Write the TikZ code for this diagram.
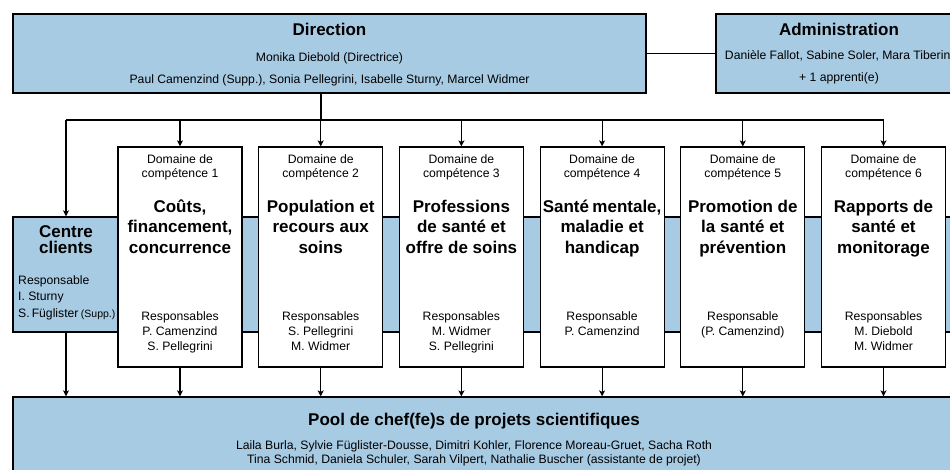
\documentclass[tikz,border=0pt]{standalone}
\usepackage{fontspec}
\setmainfont{Liberation Sans}
\usetikzlibrary{arrows.meta}
\definecolor{boxblue}{RGB}{168,203,228}
\tikzset{
  bluebox/.style={draw=black, fill=boxblue, line width=1.2pt, inner sep=0pt},
  whitebox/.style={draw=black, fill=white, line width=1.2pt, inner sep=0pt, minimum width=124pt, minimum height=220pt},
  conn/.style={draw=black, line width=1.2pt},
  arr/.style={conn, -{Stealth[length=6pt,width=6pt,inset=1.5pt]}},
  txt/.style={font=\fontsize{12.2}{14}\selectfont, inner sep=0pt},
  ttl/.style={font=\bfseries\fontsize{17}{20}\selectfont, inner sep=0pt},
}
\newcommand{\tlines}[6]{\foreach \t [count=\k from 0] in {#6}{\node[#5] (#1-\k) at (#2,{#3+#4*\k}) {\t};}}
\begin{document}
\begin{tikzpicture}[x=1pt,y=-1pt]
\clip (0,0) rectangle (950,470);
\fill[white] (0,0) rectangle (950,470);
% boxes
\node[bluebox, minimum width=947pt, minimum height=115pt] (band) at (486.5,274.5) {};
\node[bluebox, minimum width=947pt, minimum height=93pt] (pool) at (486.5,443.5) {};
\node[bluebox, minimum width=633pt, minimum height=79pt] (dir) at (329.5,53.5) {};
\node[bluebox, minimum width=246pt, minimum height=79pt] (adm) at (839,53.5) {};
\node[whitebox] (d1) at (180,257) {};
\node[whitebox] (d2) at (320.7,257) {};
\node[whitebox] (d3) at (461.4,257) {};
\node[whitebox] (d4) at (602.1,257) {};
\node[whitebox] (d5) at (742.8,257) {};
\node[whitebox] (d6) at (883.5,257) {};
% connectors
\coordinate (bj) at (321,120);
\coordinate (bl) at (66,120);
\coordinate (br) at (883.5,120);
\draw[conn] (dir.east) -- (adm.west);
\draw[conn] (dir.south -| bj) -- (bj);
\draw[conn] (bl) -- (br);
\draw[arr] (bl) -- (bl |- band.north);
\foreach \i in {1,...,6}{\draw[arr] (d\i.north |- bj) -- (d\i.north);}
\draw[arr] (band.south -| bl) -- (pool.north -| bl);
\foreach \i in {1,...,6}{\draw[arr] (d\i.south) -- (d\i.south |- pool.north);}
% Direction
\node[ttl, anchor=base] (dirT) at (329.5,36) {Direction};
\tlines{dirL}{329.5}{62}{21.5}{txt,anchor=base}{Monika Diebold (Directrice),{Paul Camenzind (Supp.), Sonia Pellegrini, Isabelle Sturny, Marcel Widmer}}
% Administration
\node[ttl, anchor=base] (admT) at (839,36) {Administration};
\tlines{admL}{839}{60}{22}{txt,anchor=base}{{Danièle Fallot, Sabine Soler, Mara Tiberini},+ 1 apprenti(e)}
% Centre clients
\tlines{ccT}{66}{237.3}{16.7}{ttl,anchor=base}{Centre,clients}
\tlines{ccL}{18}{284}{16.5}{txt,anchor=base west}{Responsable,I. Sturny,{S.\,Füglister\hspace{0.2em}{\fontsize{10.5}{13}\selectfont(Supp.)}}}
% domains
\tlines{d1a}{180}{163.3}{14.5}{txt,anchor=base}{Domaine de,compétence 1}
\tlines{d1b}{180}{212.7}{20.3}{ttl,anchor=base}{{Coûts,},{financement,},concurrence}
\tlines{d1c}{180}{320}{15}{txt,anchor=base}{Responsables,P. Camenzind,S. Pellegrini}
\tlines{d2a}{320.7}{163.3}{14.5}{txt,anchor=base}{Domaine de,compétence 2}
\tlines{d2b}{320.7}{212.7}{20.3}{ttl,anchor=base}{Population et,recours aux,soins}
\tlines{d2c}{320.7}{320}{15}{txt,anchor=base}{Responsables,S. Pellegrini,M. Widmer}
\tlines{d3a}{461.4}{163.3}{14.5}{txt,anchor=base}{Domaine de,compétence 3}
\tlines{d3b}{461.4}{212.7}{20.3}{ttl,anchor=base}{Professions,de santé et,offre de soins}
\tlines{d3c}{461.4}{320}{15}{txt,anchor=base}{Responsables,M. Widmer,S. Pellegrini}
\tlines{d4a}{602.1}{163.3}{14.5}{txt,anchor=base}{Domaine de,compétence 4}
\tlines{d4b}{602.1}{212.7}{20.3}{ttl,anchor=base}{{Santé\hspace{0.2em}mentale,},maladie et,handicap}
\tlines{d4c}{602.1}{320}{15}{txt,anchor=base}{Responsable,P. Camenzind}
\tlines{d5a}{742.8}{163.3}{14.5}{txt,anchor=base}{Domaine de,compétence 5}
\tlines{d5b}{742.8}{212.7}{20.3}{ttl,anchor=base}{Promotion de,la santé et,prévention}
\tlines{d5c}{742.8}{320}{15}{txt,anchor=base}{Responsable,(P. Camenzind)}
\tlines{d6a}{883.5}{163.3}{14.5}{txt,anchor=base}{Domaine de,compétence 6}
\tlines{d6b}{883.5}{212.7}{20.3}{ttl,anchor=base}{Rapports de,santé et,monitorage}
\tlines{d6c}{883.5}{320}{15}{txt,anchor=base}{Responsables,M. Diebold,M. Widmer}
% Pool
\node[ttl, anchor=base] (poolT) at (474,425) {Pool de chef(fe)s de projets scientifiques};
\tlines{poolL}{474}{449}{14}{txt,anchor=base}{{Laila Burla, Sylvie Füglister-Dousse, Dimitri Kohler, Florence Moreau-Gruet, Sacha Roth},{Tina Schmid, Daniela Schuler, Sarah Vilpert, Nathalie Buscher (assistante de projet)}}
\end{tikzpicture}
\end{document}
